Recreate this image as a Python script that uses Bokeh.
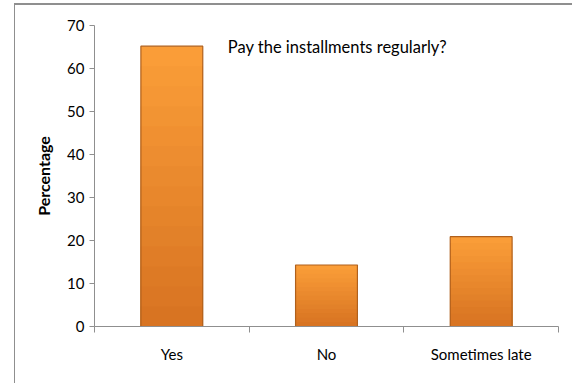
from bokeh.plotting import figure
from bokeh.models import FixedTicker, Range1d, Label
from bokeh.embed import file_html
from bokeh.resources import INLINE

categories = ["Yes", "No", "Sometimes late"]
percentages = [65.2, 14.3, 20.9]
y_ticks = [0, 10, 20, 30, 40, 50, 60, 70]
title_text = "Pay the installments regularly?"
y_label = "Percentage"

FONT = "Lato"

xs = [i + 0.5 for i in range(len(categories))]

p = figure(width=558, height=380, output_backend="svg", toolbar_location=None,
           x_range=Range1d(0, len(categories)), y_range=Range1d(0, 70))
p.margin = (3, 0, 0, 14)
p.styles = {"border-left": "1px solid #8f8f8f", "border-top": "2px solid #8f8f8f"}
p.min_border_left = 79
p.min_border_right = 15
p.min_border_top = 20
p.min_border_bottom = 59
p.outline_line_color = None
p.grid.visible = False

# vertical shading of the bars: light at top, darker toward the base
N = 14
top_rgb = (0xFA, 0x9D, 0x38)
bot_rgb = (0xD8, 0x74, 0x22)
for k in range(N, 0, -1):
    t = (N - k) / (N - 1)
    col = "#%02x%02x%02x" % tuple(int(round(a + (b - a) * t)) for a, b in zip(top_rgb, bot_rgb))
    p.vbar(x=xs, top=[v * k / N for v in percentages], width=0.4, bottom=0,
           fill_color=col, line_color=None)
p.vbar(x=xs, top=percentages, width=0.4, bottom=0,
       fill_color=None, line_color="#B0601C", line_width=1.2)

# x axis: minor ticks at category boundaries, labels at centers
xa = p.xaxis[0]
xa.ticker = FixedTicker(ticks=xs, minor_ticks=list(range(len(categories) + 1)))
xa.major_label_overrides = {x: c for x, c in zip(xs, categories)}
xa.major_tick_out = 0
xa.major_tick_in = 0
xa.minor_tick_out = 6
xa.minor_tick_in = 0
xa.minor_tick_line_color = "#8f8f8f"
xa.axis_line_color = "#8f8f8f"
xa.major_label_standoff = 12
xa.major_label_text_font = FONT
xa.major_label_text_font_size = "15px"
xa.major_label_text_color = "#000000"

ya = p.yaxis[0]
ya.ticker = FixedTicker(ticks=y_ticks)
ya.major_tick_out = 5
ya.major_tick_in = 0
ya.minor_tick_out = 0
ya.minor_tick_in = 0
ya.axis_line_color = "#8f8f8f"
ya.major_tick_line_color = "#8f8f8f"
ya.major_label_text_font = FONT
ya.major_label_text_font_size = "15px"
ya.major_label_text_color = "#000000"
ya.major_label_standoff = 5
ya.axis_label = y_label
ya.axis_label_text_font = FONT
ya.axis_label_text_font_size = "16px"
ya.axis_label_text_font_style = "bold"
ya.axis_label_text_color = "#000000"
ya.axis_label_standoff = 11

title = Label(x=1.571, y=65.1, text=title_text, text_align="center",
              text_baseline="middle", text_font=FONT,
              text_font_size="16.5px", text_color="#000000")
p.add_layout(title)

open("out.html", "w").write(file_html(p, INLINE))
